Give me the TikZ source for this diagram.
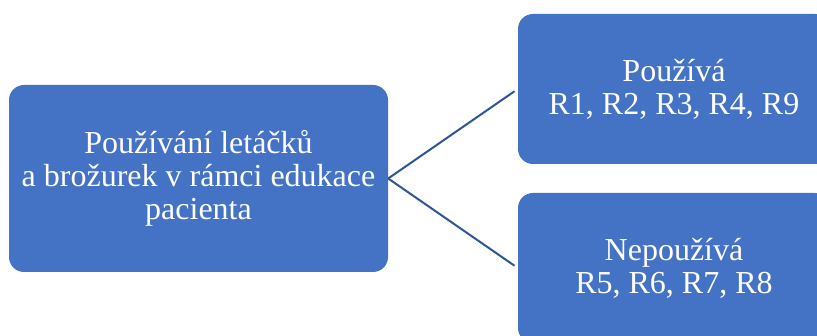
\documentclass[tikz,border=0pt]{standalone}
\usepackage{fontspec}
\setmainfont{Liberation Serif}
\usepackage{xcolor}
\usepackage{tikz}
\usetikzlibrary{positioning}

\definecolor{boxblue}{HTML}{4472C4}
\definecolor{lineblue}{HTML}{2F5597}

\begin{document}
\begin{tikzpicture}[x=1pt,y=-1pt,
  blok/.style={draw=none,fill=boxblue,rounded corners=15pt,text=white,align=center,
    inner sep=0pt,font=\fontsize{32}{33}\selectfont},
  spoj/.style={draw=lineblue,line width=2pt}]
\clip (0,0) rectangle (817,336);
\fill[white] (0,0) rectangle (817,336);
\node[blok,minimum width=379pt,minimum height=187pt] (hlavni) at (198.5,178.5)
  {Používání letáčků\\a brožurek v rámci edukace\\pacienta};
\node[blok,minimum width=312pt,minimum height=150pt] (ano) at (674,89)
  {Používá\\R1, R2, R3, R4, R9};
\node[blok,minimum width=312pt,minimum height=150pt] (ne) at (674,268)
  {Nepoužívá\\R5, R6, R7, R8};
\draw[spoj,shorten >=4pt] (hlavni.east) -- (ano.west);
\draw[spoj,shorten >=4pt] (hlavni.east) -- (ne.west);
\end{tikzpicture}
\end{document}
